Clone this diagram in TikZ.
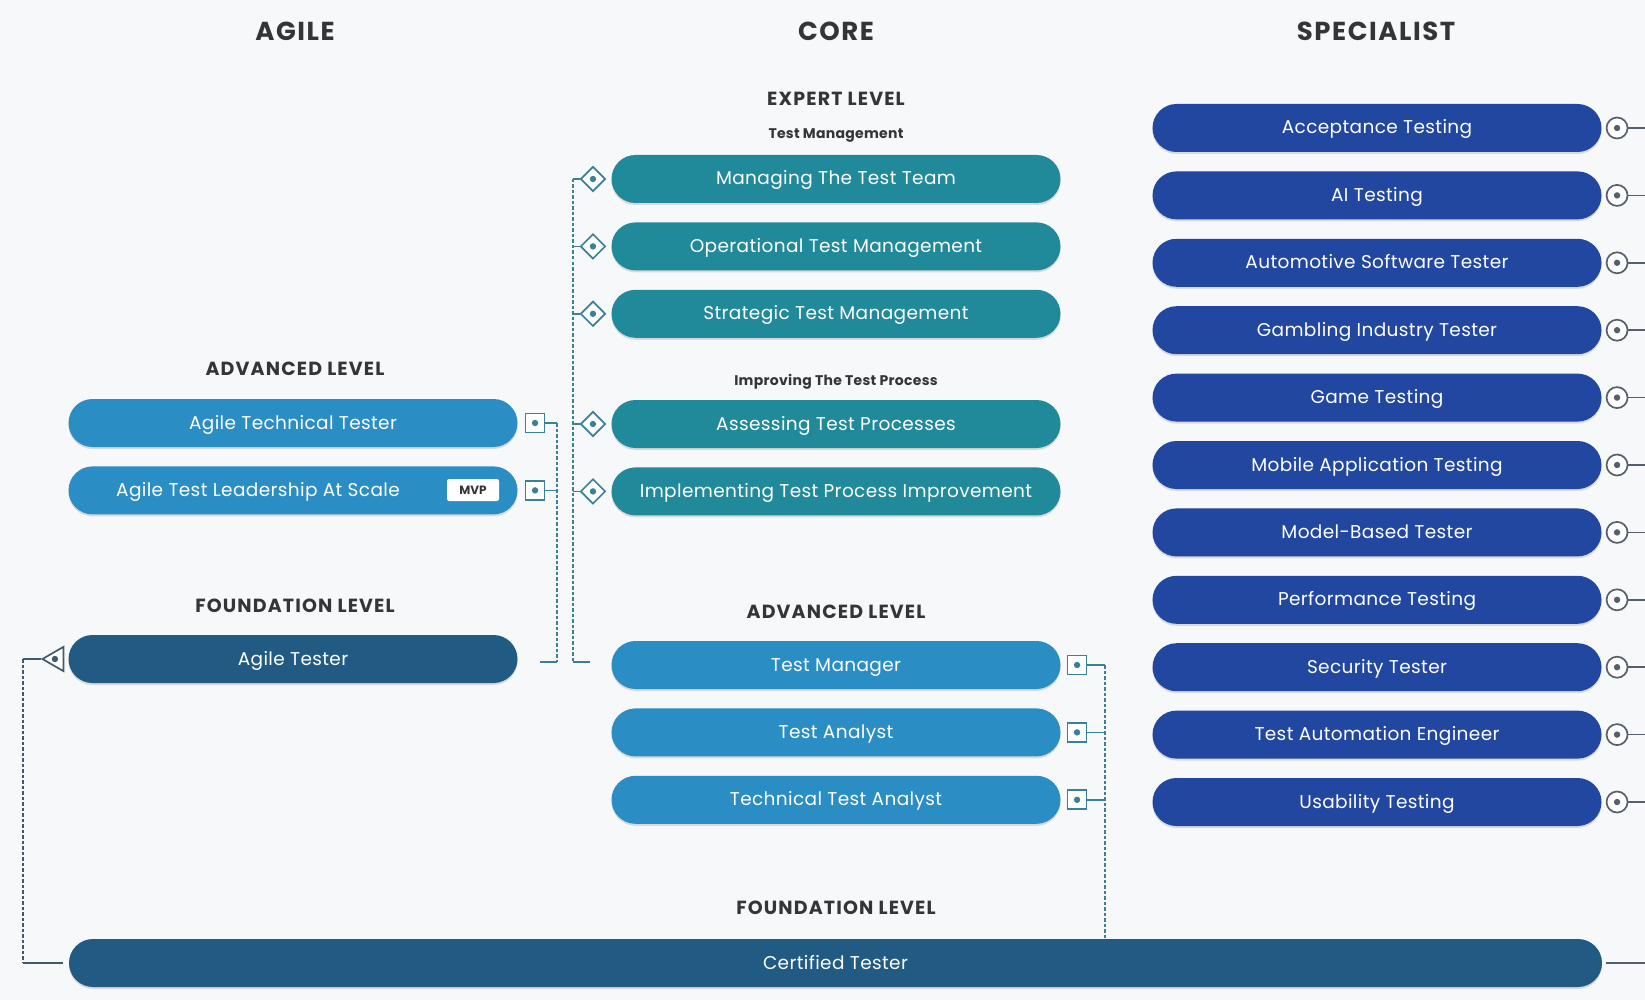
\documentclass[tikz,border=0pt]{standalone}
\usepackage{fontspec}
\setmainfont{Poppins}
\usetikzlibrary{positioning,shapes.geometric,shadows}
\definecolor{bgc}{HTML}{F7F8FA}
\definecolor{headc}{HTML}{333538}
\definecolor{advc}{HTML}{2A8DC3}
\definecolor{expc}{HTML}{20899A}
\definecolor{fndc}{HTML}{215A83}
\definecolor{specc}{HTML}{2147A0}
\definecolor{markc}{HTML}{3A8198}
\definecolor{specmarkc}{HTML}{56606C}
\definecolor{trimarkc}{HTML}{3E5A6E}
\tikzstyle{pill}=[rounded corners=24pt, minimum width=449pt, minimum height=48pt,
                inner sep=0pt, text=white, text height=13pt, text depth=1pt,
                font=\fontsize{18.5}{18.5}\selectfont\addfontfeatures{LetterSpace=2},
                drop shadow={opacity=0.25,shadow xshift=0pt,shadow yshift=-2pt}]
\tikzstyle{adv}=[pill, fill=advc]
\tikzstyle{exp}=[pill, fill=expc]
\tikzstyle{fnd}=[pill, fill=fndc]
\tikzstyle{spec}=[pill, fill=specc]
\tikzstyle{column}=[text=headc, font=\fontsize{26}{26}\selectfont\bfseries\addfontfeatures{LetterSpace=6}]
\tikzstyle{level}=[text=headc, font=\fontsize{19}{19}\selectfont\bfseries\addfontfeatures{LetterSpace=6}]
\tikzstyle{group}=[text=headc, font=\fontsize{14}{14}\selectfont\bfseries\addfontfeatures{LetterSpace=2}]
\tikzstyle{sqmark}=[draw=markc, line width=1.7pt, fill=white, minimum size=19pt, inner sep=0pt,
                path picture={\fill[markc] (path picture bounding box.center) circle (3.2pt);}]
\tikzstyle{dmmark}=[diamond, draw=markc, line width=1.7pt, fill=white, minimum size=25pt, inner sep=0pt,
                path picture={\fill[markc] (path picture bounding box.center) circle (3.2pt);}]
\tikzstyle{cimark}=[circle, draw=specmarkc, line width=1.7pt, fill=white, minimum size=21pt, inner sep=0pt,
                path picture={\fill[specmarkc] (path picture bounding box.center) circle (3.2pt);}]
\tikzstyle{trimark}=[regular polygon, regular polygon sides=3, shape border rotate=90, draw=trimarkc,
                line width=1.7pt, fill=white, minimum size=28pt, inner sep=0pt,
                path picture={\fill[trimarkc] ([xshift=2pt]path picture bounding box.center) circle (3.2pt);}]
\tikzstyle{stub}=[draw=markc, line width=1.6pt]
\tikzstyle{bus}=[draw=markc, line width=1.6pt, dash pattern=on 3.5pt off 2pt]
\tikzstyle{gstub}=[draw=specmarkc, line width=1.6pt]
\tikzstyle{gbus}=[draw=trimarkc, line width=1.6pt, dash pattern=on 3.5pt off 2pt]

\begin{document}
\begin{tikzpicture}[x=1pt, y=-1pt, node distance=19pt]
  \useasboundingbox[fill=bgc] (0,0) rectangle (1645,1000);

  % column titles
  \node[column] (hAgile) at (295,31) {AGILE};
  \node[column] (hCore) at (836,31) {CORE};
  \node[column] (hSpec) at (1376,31) {SPECIALIST};

  % agile column
  \node[level] (agileAdv) at (295,369) {ADVANCED LEVEL};
  \node[adv] (att) at (293,423) {Agile Technical Tester};
  \node[adv, below = of att] (atl) {};
  \node[text=white, font=\fontsize{18.5}{18.5}\selectfont\addfontfeatures{LetterSpace=2},
        text height=13pt, text depth=1pt, inner sep=0pt] (atlText) at (258,490) {Agile Test Leadership At Scale};
  \node[fill=white, rounded corners=2pt, minimum width=52pt, minimum height=22pt, inner sep=0pt,
        text=headc, font=\fontsize{12}{12}\selectfont\bfseries] (mvp) at (473,490) {MVP};
  \node[level] (agileFnd) at (295,606) {FOUNDATION LEVEL};
  \node[fnd] (agt) at (293,659) {Agile Tester};

  % core column
  \node[level] (coreExp) at (836,99) {EXPERT LEVEL};
  \node[group] (tmGroup) at (836,136) {Test Management};
  \node[exp] (mtt) at (836,179) {Managing The Test Team};
  \node[exp, below = of mtt] (otm) {Operational Test Management};
  \node[exp, below = of otm] (stm) {Strategic Test Management};
  \node[group] (itpGroup) at (836,382) {Improving The Test Process};
  \node[exp] (atp) at (836,424) {Assessing Test Processes};
  \node[exp, below = of atp] (itpi) {Implementing Test Process Improvement};
  \node[level] (coreAdv) at (836,612) {ADVANCED LEVEL};
  \node[adv] (tm) at (836,665) {Test Manager};
  \node[adv, below = of tm] (ta) {Test Analyst};
  \node[adv, below = of ta] (tta) {Technical Test Analyst};
  \node[level] (coreFnd) at (836,908) {FOUNDATION LEVEL};
  \node[fnd, minimum width=1533pt] (ct) at (835.5,963) {Certified Tester};

  % specialist column
  \node[spec] (s1) at (1377,128) {Acceptance Testing};
  \node[spec, below = of s1] (s2) {AI Testing};
  \node[spec, below = of s2] (s3) {Automotive Software Tester};
  \node[spec, below = of s3] (s4) {Gambling Industry Tester};
  \node[spec, below = of s4] (s5) {Game Testing};
  \node[spec, below = of s5] (s6) {Mobile Application Testing};
  \node[spec, below = of s6] (s7) {Model-Based Tester};
  \node[spec, below = of s7] (s8) {Performance Testing};
  \node[spec, below = of s8] (s9) {Security Tester};
  \node[spec, below = of s9] (s10) {Test Automation Engineer};
  \node[spec, below = of s10] (s11) {Usability Testing};

  % markers
  \node[sqmark, right = 7pt of att] (mAtt) {};
  \node[sqmark, right = 7pt of atl] (mAtl) {};
  \node[trimark, left = 4pt of agt] (mAgt) {};
  \node[dmmark, left = 5pt of mtt] (mMtt) {};
  \node[dmmark, left = 5pt of otm] (mOtm) {};
  \node[dmmark, left = 5pt of stm] (mStm) {};
  \node[dmmark, left = 5pt of atp] (mAtp) {};
  \node[dmmark, left = 5pt of itpi] (mItpi) {};
  \node[sqmark, right = 6pt of tm] (mTm) {};
  \node[sqmark, right = 6pt of ta] (mTa) {};
  \node[sqmark, right = 6pt of tta] (mTta) {};
  \foreach \s in {1,...,11}
    \node[cimark, right = 4pt of s\s] (m\s) {};

  % bus ends
  \coordinate (agileBus) at (557,662);
  \coordinate (agileEnd) at (540,662);
  \coordinate (expBus) at (573,662);
  \coordinate (expEnd) at (590,662);
  \coordinate (advBus) at (1105,939);
  \coordinate (fndBus) at (23,963);
  \coordinate (fndEnd) at (63,963);
  \coordinate (rightEdge) at (1645,0);

  % agile advanced -> agile tester
  \draw[stub] (mAtt.east) -- (mAtt.east -| agileBus);
  \draw[stub] (mAtl.east) -- (mAtl.east -| agileBus);
  \draw[bus] (mAtt.east -| agileBus) -- (agileBus);
  \draw[stub] (agileBus) -- (agileEnd);

  % expert -> test manager
  \draw[stub] (mMtt.west) -- (mMtt.west -| expBus);
  \draw[stub] (mOtm.west) -- (mOtm.west -| expBus);
  \draw[stub] (mStm.west) -- (mStm.west -| expBus);
  \draw[stub] (mAtp.west) -- (mAtp.west -| expBus);
  \draw[stub] (mItpi.west) -- (mItpi.west -| expBus);
  \draw[bus] (mMtt.west -| expBus) -- (expBus);
  \draw[stub] (expBus) -- (expEnd);

  % core advanced -> certified tester
  \draw[stub] (mTm.east) -- (mTm.east -| advBus);
  \draw[stub] (mTa.east) -- (mTa.east -| advBus);
  \draw[stub] (mTta.east) -- (mTta.east -| advBus);
  \draw[bus] (mTm.east -| advBus) -- (advBus);

  % agile tester -> certified tester
  \draw[gstub, draw=trimarkc] (mAgt.west) -- (mAgt.west -| fndBus);
  \draw[gbus] (mAgt.west -| fndBus) -- (fndBus);
  \draw[gstub, draw=trimarkc] (fndBus) -- (fndEnd);

  % specialist -> right edge
  \foreach \s in {1,...,11}
    \draw[gstub] (m\s.east) -- (m\s.east -| rightEdge);
  \draw[gstub] ([xshift=4pt]ct.east) -- (ct.east -| rightEdge);
\end{tikzpicture}
\end{document}
